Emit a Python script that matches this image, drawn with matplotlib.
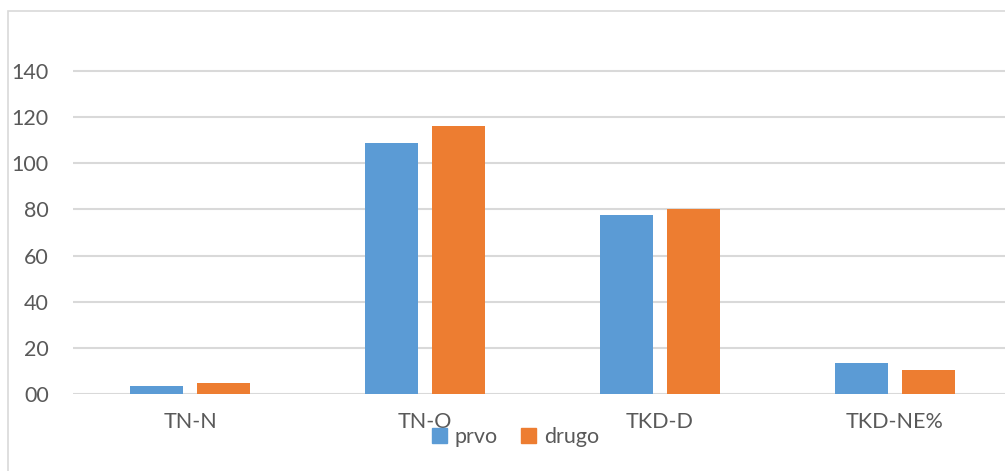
import matplotlib
matplotlib.use("Agg")
import matplotlib.pyplot as plt
import numpy as np
from matplotlib.patches import Rectangle, Patch

categories = ["TN-N", "TN-O", "TKD-D", "TKD-NE%"]
prvo = [3.5, 109, 77.5, 13.3]
drugo = [4.9, 116, 80, 10.4]
series_names = ["prvo", "drugo"]
yticks = [0, 20, 40, 60, 80, 100, 120, 140]
ytick_labels = ["00", "20", "40", "60", "80", "100", "120", "140"]

plt.rcParams["font.family"] = ["Lato", "DejaVu Sans"]
txt = "#595959"
grid = "#d9d9d9"
blue = "#5B9BD5"
orange = "#ED7D31"

fig = plt.figure(figsize=(10.05, 4.71), dpi=100)
W, H = 1005, 471

# chart border (runs off the right and bottom edge)
fig.patches.append(Rectangle((8 / W, -0.1), 1.1, (H - 11) / H + 0.1,
                             transform=fig.transFigure, fill=False,
                             edgecolor=grid, linewidth=1.2))

ymax = 150
px_per = (394 - 71) / 140
top = 394 - ymax * px_per
ax = fig.add_axes([72.5 / W, (H - 394) / H, 940 / W, (394 - top) / H])

x = np.arange(len(categories))
bw = 0.226
off = 0.143
ax.bar(x - off, prvo, bw, color=blue, zorder=3)
ax.bar(x + off, drugo, bw, color=orange, zorder=3)

ax.set_xlim(-0.5, len(categories) - 0.5)
ax.set_ylim(0, ymax)
ax.set_yticks(yticks)
ax.set_yticklabels(ytick_labels)
ax.set_xticks(x)
ax.set_xticklabels(categories)
for s in ax.spines.values():
    s.set_visible(False)
ax.tick_params(length=0, labelsize=15.5, labelcolor=txt)
ax.tick_params(axis="y", pad=17)
ax.tick_params(axis="x", pad=13)
ax.grid(axis="y", color=grid, linewidth=1.5, zorder=0)

handles = [Patch(color=blue), Patch(color=orange)]
fig.legend(handles, series_names, loc="center", bbox_to_anchor=(0.513, 0.072),
           ncol=2, frameon=False, fontsize=15.5, labelcolor=txt,
           handlelength=0.7, handleheight=0.7, handletextpad=0.35,
           columnspacing=1.1)

fig.savefig("out.png", dpi=100)
